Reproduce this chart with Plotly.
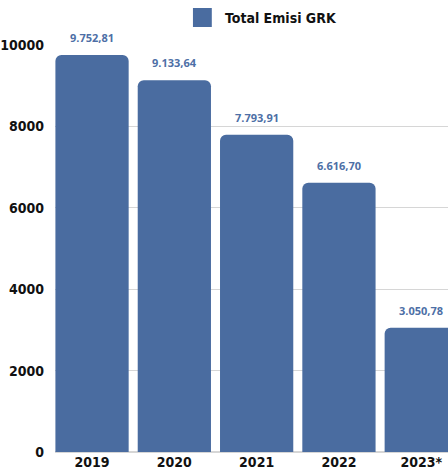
import plotly.graph_objects as go

# Total greenhouse-gas emissions per year
years = ["2019", "2020", "2021", "2022", "2023*"]
emisi = [9752.81, 9133.64, 7793.91, 6616.70, 3050.78]
series_name = "Total Emisi GRK"
y_ticks = [0, 2000, 4000, 6000, 8000, 10000]

BAR = "#4a6ca0"
LABEL = "#4d6fa6"
COND = "DejaVu Sans Condensed, DejaVu Sans, sans-serif"
TICK_FONT = dict(family=COND, size=14, color="#111111", weight="bold")


def fmt_id(v):
    # Indonesian number style: dot for thousands, comma for decimals
    s = f"{v:,.2f}"
    return s.replace(",", "_").replace(".", ",").replace("_", ".")


fig = go.Figure()
fig.add_trace(go.Bar(
    x=list(range(len(years))),
    y=emisi,
    name=series_name,
    marker=dict(color=BAR, cornerradius=6, line=dict(width=0)),
    width=0.89,
    showlegend=False,
    hoverinfo="skip",
))

for i, v in enumerate(emisi):
    fig.add_annotation(
        x=i, y=v, text=fmt_id(v), showarrow=False,
        xref="x", yref="y", yanchor="bottom", yshift=8,
        font=dict(family="Open Sans", size=11, color=LABEL, weight="bold"),
    )

# Legend drawn as a swatch plus label above the plot
fig.add_shape(type="rect", xref="paper", yref="paper",
              x0=(191 - 52) / 396, x1=(210 - 52) / 396,
              y0=1 + (45 - 27) / 407, y1=1 + (45 - 8) / 407,
              fillcolor=BAR, line=dict(width=0))
fig.add_annotation(
    xref="paper", yref="paper", x=(221 - 52) / 396, y=1 + (45 - 17.5) / 407,
    xanchor="left", yanchor="middle", showarrow=False, text=series_name,
    font=dict(family=COND, size=14, color="#111111", weight="bold"),
)

fig.update_layout(
    width=448, height=473,
    margin=dict(l=52, r=0, t=45, b=21),
    paper_bgcolor="white", plot_bgcolor="white",
    bargap=0.11,
    xaxis=dict(
        range=[-0.45, 4.325],
        tickmode="array", tickvals=list(range(len(years))), ticktext=years,
        tickfont=TICK_FONT, showgrid=False, showline=False, ticks="",
        zeroline=False,
    ),
    yaxis=dict(
        range=[0, 10000],
        tickmode="array", tickvals=y_ticks, ticktext=[str(t) for t in y_ticks],
        tickfont=TICK_FONT, showgrid=True, gridcolor="#d6d6d6", gridwidth=1,
        zeroline=True, zerolinecolor="#d6d6d6", ticks="", ticklabelstandoff=10,
    ),
)

fig.write_html("out.html")
